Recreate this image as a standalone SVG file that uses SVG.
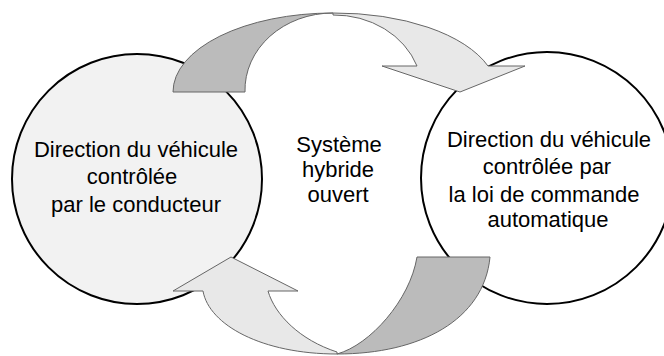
<svg xmlns="http://www.w3.org/2000/svg" width="664" height="356" viewBox="0 0 664 356">
<style>
.circ{stroke:#000;stroke-width:2}
.dark{fill:#bbbbbb;stroke:#666;stroke-width:1}
.light{fill:#e8e8e8;stroke:#666;stroke-width:1}
text{font-family:"Liberation Sans",Arial,sans-serif;font-size:22px;fill:#000;text-anchor:middle}
</style>
<rect width="664" height="356" fill="#fff"/>
<g id="node-driver">
<circle class="circ" cx="137" cy="179" r="125" fill="#f2f2f2"/>
<text x="136" y="157">Direction du véhicule</text>
<text x="132" y="184">contrôlée</text>
<text x="136" y="212">par le conducteur</text>
</g>
<g id="node-auto">
<circle class="circ" cx="547" cy="178" r="126" fill="#fff"/>
<text x="549" y="147">Direction du véhicule</text>
<text x="547" y="174">contrôlée par</text>
<text x="544" y="202">la loi de commande</text>
<text x="548" y="227">automatique</text>
</g>
<g id="node-hybrid">
<text x="339" y="152">Système</text>
<text x="338" y="177">hybride</text>
<text x="338" y="202">ouvert</text>
</g>
<g id="connectors">
<path class="dark" d="M173,92 A160,79 0 0 1 333,13 A88,77 0 0 0 245,92 Z"/>
<path class="light" d="M333,13 A162,79 0 0 1 488,66 L525,66 L460,92 L382,66 L417,66 A88,77 0 0 0 333,15 Z"/>
<path class="dark" d="M490,257 C484,320 420,354 337,354 C370,345 410,300 417,257 Z"/>
<path class="light" d="M337,354 C262,354 209,325 203,291 L173,291 L231,257 L298,291 L268,291 C275,315 300,340 337,352 Z"/>
</g>
</svg>
